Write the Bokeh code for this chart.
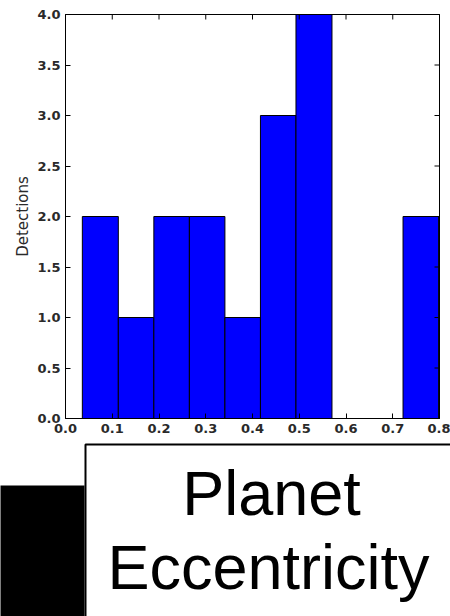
from bokeh.plotting import figure
from bokeh.models import Range1d, LinearAxis, FixedTicker, NumeralTickFormatter
from bokeh.core.properties import value
from bokeh.embed import file_html
from bokeh.resources import INLINE

# ---- data ----
bin_edges = [0.036, 0.113, 0.189, 0.265, 0.341, 0.417, 0.493, 0.570, 0.646, 0.722, 0.798]
detections = [2, 1, 2, 2, 1, 3, 4, 0, 0, 2]
x_ticks = [0.0, 0.1, 0.2, 0.3, 0.4, 0.5, 0.6, 0.7, 0.8]
y_ticks = [0.0, 0.5, 1.0, 1.5, 2.0, 2.5, 3.0, 3.5, 4.0]
y_label = "Detections"
title_lines = ["Planet", "Eccentricity"]

W, H = 450, 616
X_MIN, X_MAX = 0.0, 0.8
Y_MIN, Y_MAX = 0.0, 4.0
# plot box in page pixels: x 65..439, y 14..418
XPX = 374 / (X_MAX - X_MIN)
YPX = 404 / (Y_MAX - Y_MIN)
TICK = 5  # inward tick length, px
x_range = Range1d(X_MIN - 65 / XPX, X_MAX + (W - 439) / XPX)
y_range = Range1d(Y_MIN - (H - 418) / YPX, Y_MAX + 14 / YPX)

p = figure(width=W, height=H, x_range=x_range, y_range=y_range,
           x_axis_location=None, y_axis_location=None,
           output_backend="svg", toolbar_location=None,
           min_border=0, outline_line_color=None,
           background_fill_color="white", border_fill_color="white")
p.grid.visible = False
p.extra_x_ranges = {"px": Range1d(0, W)}
p.extra_y_ranges = {"px": Range1d(H, 0)}

p.quad(left=bin_edges[:-1], right=bin_edges[1:], bottom=0, top=detections,
       fill_color="#0000ff", line_color="black", line_width=1)

# axes frame (matplotlib-style box) with inward ticks on top and right
p.quad(left=X_MIN, right=X_MAX, bottom=Y_MIN, top=Y_MAX,
       fill_color=None, line_color="black", line_width=1)
p.segment(x0=x_ticks, x1=x_ticks, y0=[Y_MAX] * len(x_ticks),
          y1=[Y_MAX - TICK / YPX] * len(x_ticks), line_color="black", line_width=1)
p.segment(x0=[X_MAX] * len(y_ticks), x1=[X_MAX - TICK / XPX] * len(y_ticks),
          y0=y_ticks, y1=y_ticks, line_color="black", line_width=1)


def make_axis(ticks, loc, bounds):
    ax = LinearAxis(fixed_location=loc, bounds=bounds)
    ax.ticker = FixedTicker(ticks=ticks)
    ax.formatter = NumeralTickFormatter(format="0.0")
    ax.major_tick_in = TICK
    ax.major_tick_out = 0
    ax.major_tick_line_color = "black"
    ax.minor_tick_line_color = None
    ax.axis_line_color = "black"
    ax.major_label_text_font = "DejaVu Sans"
    ax.major_label_text_font_size = "13px"
    ax.major_label_text_font_style = "bold"
    ax.major_label_text_color = "#2a2a2a"
    ax.major_label_standoff = 5
    return ax


ax_b = make_axis(x_ticks, Y_MIN, (X_MIN, X_MAX))
p.add_layout(ax_b, "below")
ax_l = make_axis(y_ticks, X_MIN, (Y_MIN, Y_MAX))
ax_l.axis_label = y_label
ax_l.axis_label_text_font = "DejaVu Sans"
ax_l.axis_label_text_font_size = "15px"
ax_l.axis_label_text_font_style = "normal"
ax_l.axis_label_text_color = "#2a2a2a"
ax_l.axis_label_standoff = 2
p.add_layout(ax_l, "left")

# ---- slide-style caption panel below the chart (page pixel coordinates) ----
p.quad(left=-10, right=84, top=485, bottom=H + 20, fill_color="black", line_color=None,
       x_range_name="px", y_range_name="px")
p.quad(left=85, right=W + 20, top=444, bottom=H + 20, fill_color="white",
       line_color="black", line_width=2, x_range_name="px", y_range_name="px")
p.text(x=[271, 268], y=[492, 566], text=title_lines,
       text_font=value("Liberation Sans"), text_font_size="63px",
       text_align="center", text_baseline="alphabetic", text_color="black",
       x_range_name="px", y_range_name="px")

open("out.html", "w").write(file_html(p, INLINE))
